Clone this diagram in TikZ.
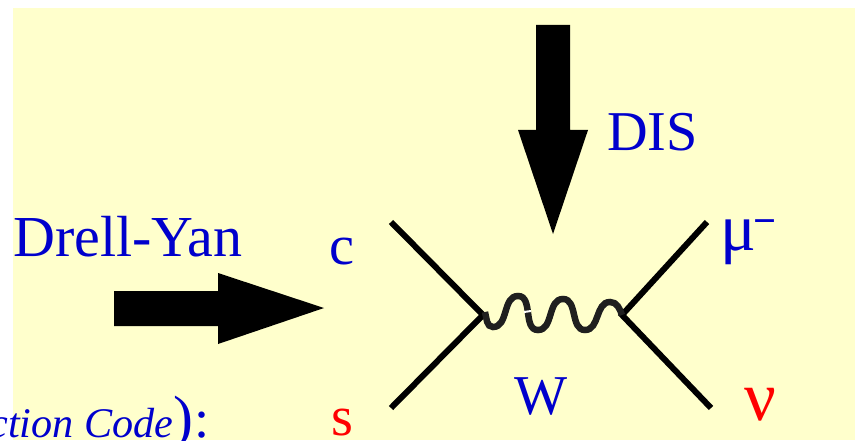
\documentclass[tikz,border=0pt]{standalone}
\usepackage{fontspec}
\usepackage{xcolor}
\setmainfont{Liberation Serif}
\definecolor{panelyellow}{RGB}{255,255,204}
\definecolor{labelblue}{RGB}{0,0,204}
\tikzset{
  lbl/.style={inner sep=0pt,text=labelblue,font=\fontsize{32}{32}\selectfont},
  leg/.style={line width=0.12cm,line cap=butt},
}
\begin{document}
\begin{tikzpicture}
\useasboundingbox (0,0) rectangle (17.1,8.8);
\fill[panelyellow] (0.26,0) rectangle (17.1,8.64);
\begin{scope}
\clip (0,0) rectangle (17.1,8.8);
\node[lbl,anchor=base west,font=\itshape\fontsize{24}{24}\selectfont] (code) at (-0.22,0.06) {ction Code};
\node[lbl,anchor=base west,font=\fontsize{34}{34}\selectfont] (close) at (code.base east) {)};
\node[lbl,anchor=base west,font=\fontsize{31}{31}\selectfont] (colon) at (close.base east) {:};
\end{scope}
% vertices of the graph
\coordinate (left) at (9.66,2.5);
\coordinate (right) at (12.44,2.5);
\coordinate (c) at (7.82,4.36);
\coordinate (s) at (7.82,0.64);
\coordinate (mu) at (14.14,4.36);
\coordinate (nu) at (14.22,0.64);
\draw[leg] (c)--(left)--(s);
\draw[leg] (mu)--(right)--(nu);
% boson line
\coordinate (start) at (9.7,2.56);
\coordinate (dipa) at (9.86,2.26);
\coordinate (peaka) at (10.36,2.88);
\coordinate (dipb) at (10.76,2.2);
\coordinate (peakb) at (11.26,2.82);
\coordinate (dipc) at (11.7,2.2);
\coordinate (peakc) at (12.2,2.76);
\draw[line width=0.13cm,black!88] (start) to[out=-75,in=180] (dipa) to[out=0,in=180] (peaka)
  to[out=0,in=180] (dipb) to[out=0,in=180] (peakb) to[out=0,in=180] (dipc)
  to[out=0,in=180] (peakc) to[out=0,in=110] (right);
\draw[white,line width=0.04cm] (10.48,2.56)--(10.62,2.58);
% block arrows
\coordinate (htip) at (6.48,2.64);
\coordinate (vtip) at (11.06,4.12);
\fill (htip)--(4.36,3.34)--(4.36,2.98)--(2.28,2.98)--(2.28,2.28)--(4.36,2.28)--(4.36,1.92)--cycle;
\fill (vtip)--(11.76,6.2)--(11.4,6.2)--(11.4,8.3)--(10.72,8.3)--(10.72,6.2)--(10.36,6.2)--cycle;
% labels
\node[lbl,anchor=base west,font=\fontsize{33}{33}\selectfont] (dy) at (0.26,3.68) {Drell-Yan};
\node[lbl,anchor=base west] (dis) at (12.14,5.78) {DIS};
\node[lbl,anchor=base] (clbl) at (6.84,3.52) {c};
\node[lbl,anchor=base,text=red] (slbl) at (6.84,0.1) {s};
\node[lbl,anchor=base] (wlbl) at (10.82,0.52) {W};
\node[lbl,anchor=base west,font=\fontsize{38}{38}\selectfont] (mulbl) at (14.4,3.8) {μ};
\node[lbl,anchor=base west,font=\bfseries\fontsize{23}{23}\selectfont] (minus) at (15.06,4.12) {−};
\node[lbl,anchor=base,text=red,font=\fontsize{40}{40}\selectfont] (nulbl) at (15.2,0.4) {ν};
\end{tikzpicture}
\end{document}
